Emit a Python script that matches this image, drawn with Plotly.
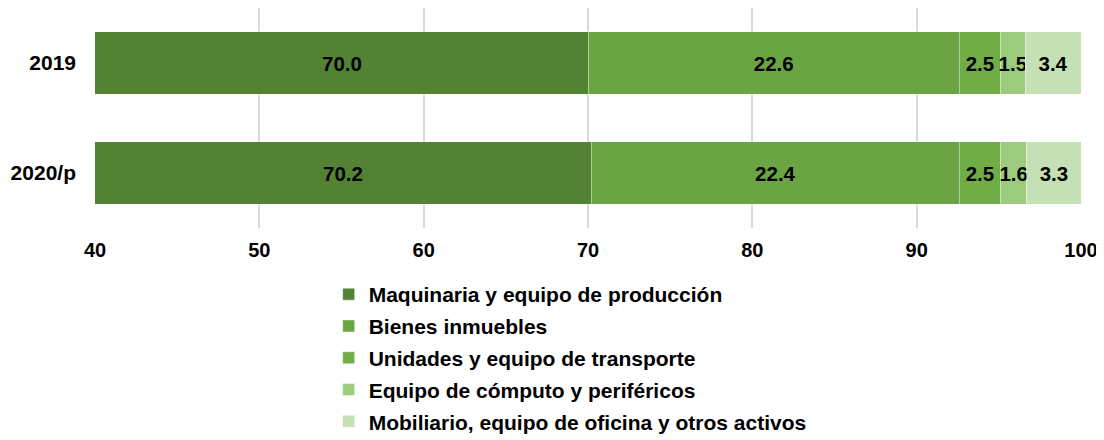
import plotly.graph_objects as go

years = ["2019", "2020/p"]
series_names = [
    "Maquinaria y equipo de producción",
    "Bienes inmuebles",
    "Unidades y equipo de transporte",
    "Equipo de cómputo y periféricos",
    "Mobiliario, equipo de oficina y otros activos",
]
maquinaria = [70.0, 70.2]
inmuebles = [22.6, 22.4]
transporte = [2.5, 2.5]
computo = [1.5, 1.6]
mobiliario = [3.4, 3.3]
colors = ["#548235", "#6aa443", "#70ad47", "#9dcb7e", "#c5e0b4"]
x_ticks = [40, 50, 60, 70, 80, 90, 100]
x_range = [40, 100]

FONT = "Liberation Sans, Arial, sans-serif"
LABEL_SIZE = 20.5
series_values = [maquinaria, inmuebles, transporte, computo, mobiliario]

fig = go.Figure()
for i, (name, vals, col) in enumerate(zip(series_names, series_values, colors)):
    fig.add_trace(go.Bar(
        y=years, x=vals, name=name, orientation="h",
        marker=dict(color=col, line=dict(color="rgba(255,255,255,0.45)", width=1)),
        text=["", ""] if i == 0 else [f"{v:.1f}" for v in vals],
        textposition="inside", insidetextanchor="middle",
        constraintext="none", textangle=0,
        textfont=dict(family=FONT, size=LABEL_SIZE, color="black", weight="bold"),
        legendgroup=f"g{i}",
    ))

# first segment starts below the visible range: label it at the centre of its visible part
for idx, v in enumerate(maquinaria):
    fig.add_annotation(
        x=(max(x_range[0], 0) + v) / 2, y=idx, xref="x", yref="y",
        text=f"{v:.1f}", showarrow=False,
        font=dict(family=FONT, size=LABEL_SIZE, color="black", weight="bold"),
    )

fig.update_layout(
    barmode="stack", bargap=0.43,
    width=1096, height=432,
    margin=dict(l=87, r=23, t=0, b=212, autoexpand=False),
    plot_bgcolor="white", paper_bgcolor="white",
    font=dict(family=FONT, size=20, color="black"),
    uniformtext=dict(minsize=LABEL_SIZE, mode="show"),
    xaxis=dict(range=x_range, tickvals=x_ticks, showgrid=True, gridcolor="#d9d9d9",
               gridwidth=2, zeroline=False, showline=False, ticks="",
               tickfont=dict(family=FONT, size=20, color="black", weight="bold"),
               ticklabelstandoff=8),
    yaxis=dict(type="category", categoryorder="array", categoryarray=years,
               autorange="reversed", showgrid=False, ticks="", showline=False,
               tickfont=dict(family=FONT, size=21, color="black", weight="bold"),
               ticklabelstandoff=18),
    legend=dict(orientation="v", x=0.237, xanchor="left", y=-0.209, yanchor="top",
                font=dict(family=FONT, size=21, color="black", weight="bold"),
                tracegroupgap=1.5, itemwidth=30, bgcolor="rgba(0,0,0,0)"),
)
fig.write_html("out.html")
